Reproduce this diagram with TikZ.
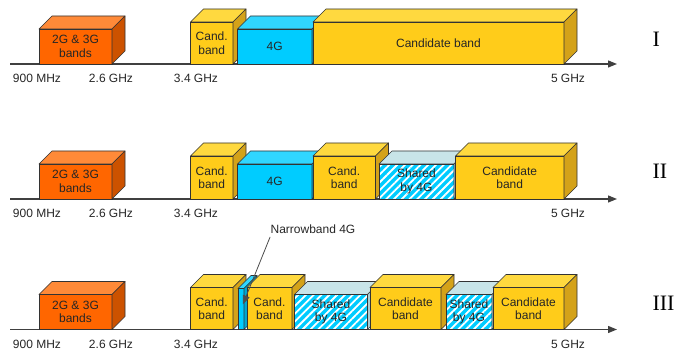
\documentclass[tikz,border=0pt]{standalone}
\usepackage{fontspec}
\setmainfont{Liberation Sans}
\newfontfamily\rowfont{Liberation Serif}
\usetikzlibrary{arrows.meta,patterns.meta}

\definecolor{orfront}{HTML}{FF6600}
\definecolor{ortop}{HTML}{FF8A38}
\definecolor{orside}{HTML}{CC5200}
\definecolor{gdfront}{HTML}{FFCC1A}
\definecolor{gdtop}{HTML}{FFD93F}
\definecolor{gdside}{HTML}{D4A219}
\definecolor{cyfront}{HTML}{00CCFF}
\definecolor{cytop}{HTML}{30D6FF}
\definecolor{cyside}{HTML}{00A6D0}
\definecolor{shtop}{HTML}{C8E4E8}
\definecolor{shside}{HTML}{A8CDD2}
\definecolor{edge}{HTML}{333333}

% one band drawn as a box: name, colour, left x, right x, height, axis y, text
\newcommand{\bandbox}[7]{%
  \node[band, #2 front, minimum width={#4-#3}, minimum height=#5,
        anchor=south west] (#1) at (#3,#6) {#7};
  \filldraw[face, #2 top] (#1.north west) -- ++(13,-13) -- ++({#4-#3},0)
     -- (#1.north east) -- cycle;
  \filldraw[face, #2 side] (#1.north east) -- ++(13,-13) -- ++(0,#5)
     -- (#1.south east) -- cycle;
}

\begin{document}
\begin{tikzpicture}[
    x = 1pt, y = -1pt, % pixel coordinates, y downwards
    font = \fontsize{12}{13.5}\selectfont,
    band/.style = {draw = edge, line width = 0.6pt, inner sep = 0pt,
                   outer sep = 0pt, align = center, text = black!85},
    face/.style = {draw = edge, line width = 0.6pt, line join = round},
    orange front/.style = {fill = orfront},
    orange top/.style = {fill = ortop},
    orange side/.style = {fill = orside},
    gold front/.style = {fill = gdfront},
    gold top/.style = {fill = gdtop},
    gold side/.style = {fill = gdside},
    cyan front/.style = {fill = cyfront},
    cyan top/.style = {fill = cytop},
    cyan side/.style = {fill = cyside},
    shared front/.style = {preaction = {fill = cyfront},
        pattern = {Lines[angle=45, distance=5.5pt, line width=1.8pt]},
        pattern color = white},
    shared top/.style = {fill = shtop},
    shared side/.style = {fill = shside},
    axis/.style = {draw = black!75, line width = 1.2pt,
                   -{Triangle[length=9pt, width=7pt]}},
    freq/.style = {text = black!85},
    rowname/.style = {font = \rowfont\fontsize{22}{24}\selectfont, anchor = west},
    pointer/.style = {draw = black!70, line width = 0.8pt, shorten > = 5pt,
                      -{Triangle[length=9pt, width=7pt]}}
    ]

    \useasboundingbox (0,0) rectangle (689,352);

    % axes with their frequency marks
    \foreach \ay/\rn/\ry in {64/I/39, 199/II/171, 329.5/III/303} {
        \coordinate (ax\rn L) at (10,\ay);
        \coordinate (ax\rn R) at (617,\ay);
        \draw[axis] (ax\rn L) -- (ax\rn R);
        \node[freq] (f\rn a) at (37,\ay+14.5) {900 MHz};
        \node[freq] (f\rn b) at (111,\ay+14.5) {2.6 GHz};
        \node[freq] (f\rn c) at (196,\ay+14.5) {3.4 GHz};
        \node[freq] (f\rn d) at (568,\ay+14.5) {5 GHz};
        \node[rowname] (row\rn) at (649,\ry) {\rn};
    }

    % row I
    \bandbox{rIa}{orange}{39}{112}{35}{64}{2G \& 3G\\bands}
    \bandbox{rIb}{gold}{190.5}{233}{42}{64}{Cand.\\band}
    \bandbox{rIc}{cyan}{237.5}{312}{35}{64}{4G}
    \bandbox{rId}{gold}{313}{564}{42}{64}{Candidate band}

    % row II
    \bandbox{rIIa}{orange}{39}{112}{35}{199}{2G \& 3G\\bands}
    \bandbox{rIIb}{gold}{190.5}{233}{43}{199}{Cand.\\band}
    \bandbox{rIIc}{cyan}{237.5}{312}{35}{199}{4G}
    \bandbox{rIId}{gold}{313}{375.5}{43}{199}{Cand.\\band}
    \bandbox{rIIe}{shared}{379}{454}{35}{199}{Shared\\by 4G}
    \bandbox{rIIf}{gold}{455.5}{564}{43}{199}{Candidate\\band}

    % row III
    \bandbox{rIIIa}{orange}{39}{112}{35}{329.5}{2G \& 3G\\bands}
    \bandbox{rIIIb}{gold}{190.5}{233}{42}{329.5}{Cand.\\band}
    \bandbox{rIIIc}{cyan}{238}{244}{41}{329.5}{}
    \bandbox{rIIId}{gold}{247}{292}{42}{329.5}{Cand.\\band}
    \bandbox{rIIIe}{shared}{294.5}{367.5}{35}{329.5}{Shared\\by 4G}
    \bandbox{rIIIf}{gold}{370}{441}{42}{329.5}{Candidate\\band}
    \bandbox{rIIIg}{shared}{446}{492}{35}{329.5}{Shared\\by 4G}
    \bandbox{rIIIh}{gold}{493}{564}{42}{329.5}{Candidate\\band}

    \node[freq] (nblabel) at (313,229) {Narrowband 4G};
    \draw[pointer] ([xshift=3pt]nblabel.south west) -- (rIIIc.center);
\end{tikzpicture}
\end{document}
